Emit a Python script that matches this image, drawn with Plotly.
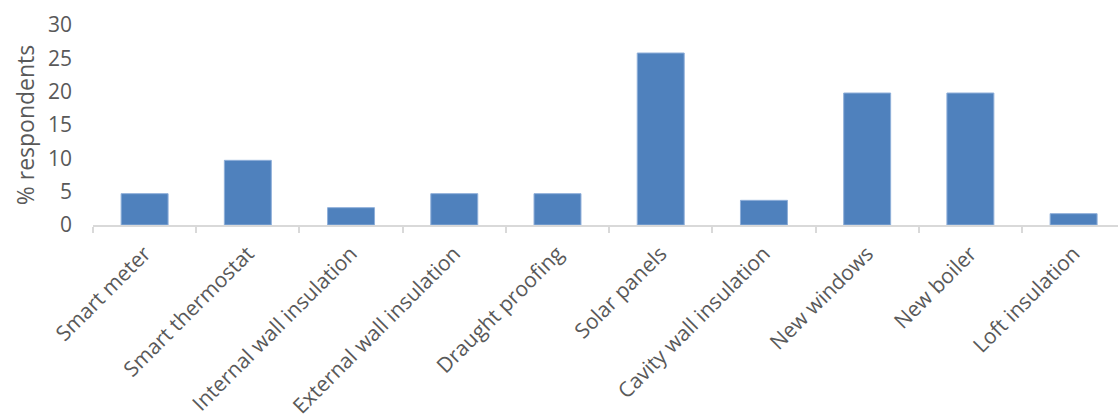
import plotly.graph_objects as go

# Home energy measures and share of respondents (%)
measures = [
    "Smart meter",
    "Smart thermostat",
    "Internal wall insulation",
    "External wall insulation",
    "Draught proofing",
    "Solar panels",
    "Cavity wall insulation",
    "New windows",
    "New boiler",
    "Loft insulation",
]
respondents_pct = [4.7, 9.7, 2.6, 4.7, 4.7, 25.8, 3.7, 19.8, 19.8, 1.7]

y_ticks = [0, 5, 10, 15, 20, 25, 30]

TEXT = "#595959"
AXIS = "#D9D9D9"
FONT = "Open Sans, sans-serif"
SIZE = 21

fig = go.Figure(
    go.Bar(
        x=measures,
        y=respondents_pct,
        width=0.455,
        marker=dict(color="#4F81BD", line=dict(color="#8FAFD9", width=1)),
    )
)

fig.update_layout(
    width=1118,
    height=414,
    margin=dict(l=93, r=0, t=25, b=189),
    paper_bgcolor="white",
    plot_bgcolor="white",
    showlegend=False,
    font=dict(family=FONT, size=SIZE, color=TEXT),
)

fig.update_xaxes(
    range=[-0.5, 9.43],
    automargin=False,
    showline=True,
    linecolor=AXIS,
    linewidth=2,
    ticks="outside",
    tickson="boundaries",
    ticklen=6,
    tickwidth=2,
    tickcolor=AXIS,
    tickangle=-45,
    ticklabelstandoff=6,
    tickfont=dict(size=SIZE, color=TEXT, family=FONT),
    showgrid=False,
    zeroline=False,
)

fig.update_yaxes(
    range=[0, 30],
    automargin=False,
    tickvals=y_ticks,
    showgrid=False,
    zeroline=False,
    showline=False,
    ticks="",
    ticklabelstandoff=20,
    tickfont=dict(size=SIZE, color=TEXT, family=FONT),
    title=dict(text="% respondents", font=dict(size=23, color=TEXT, family=FONT), standoff=6),
)

fig.write_html("out.html")
